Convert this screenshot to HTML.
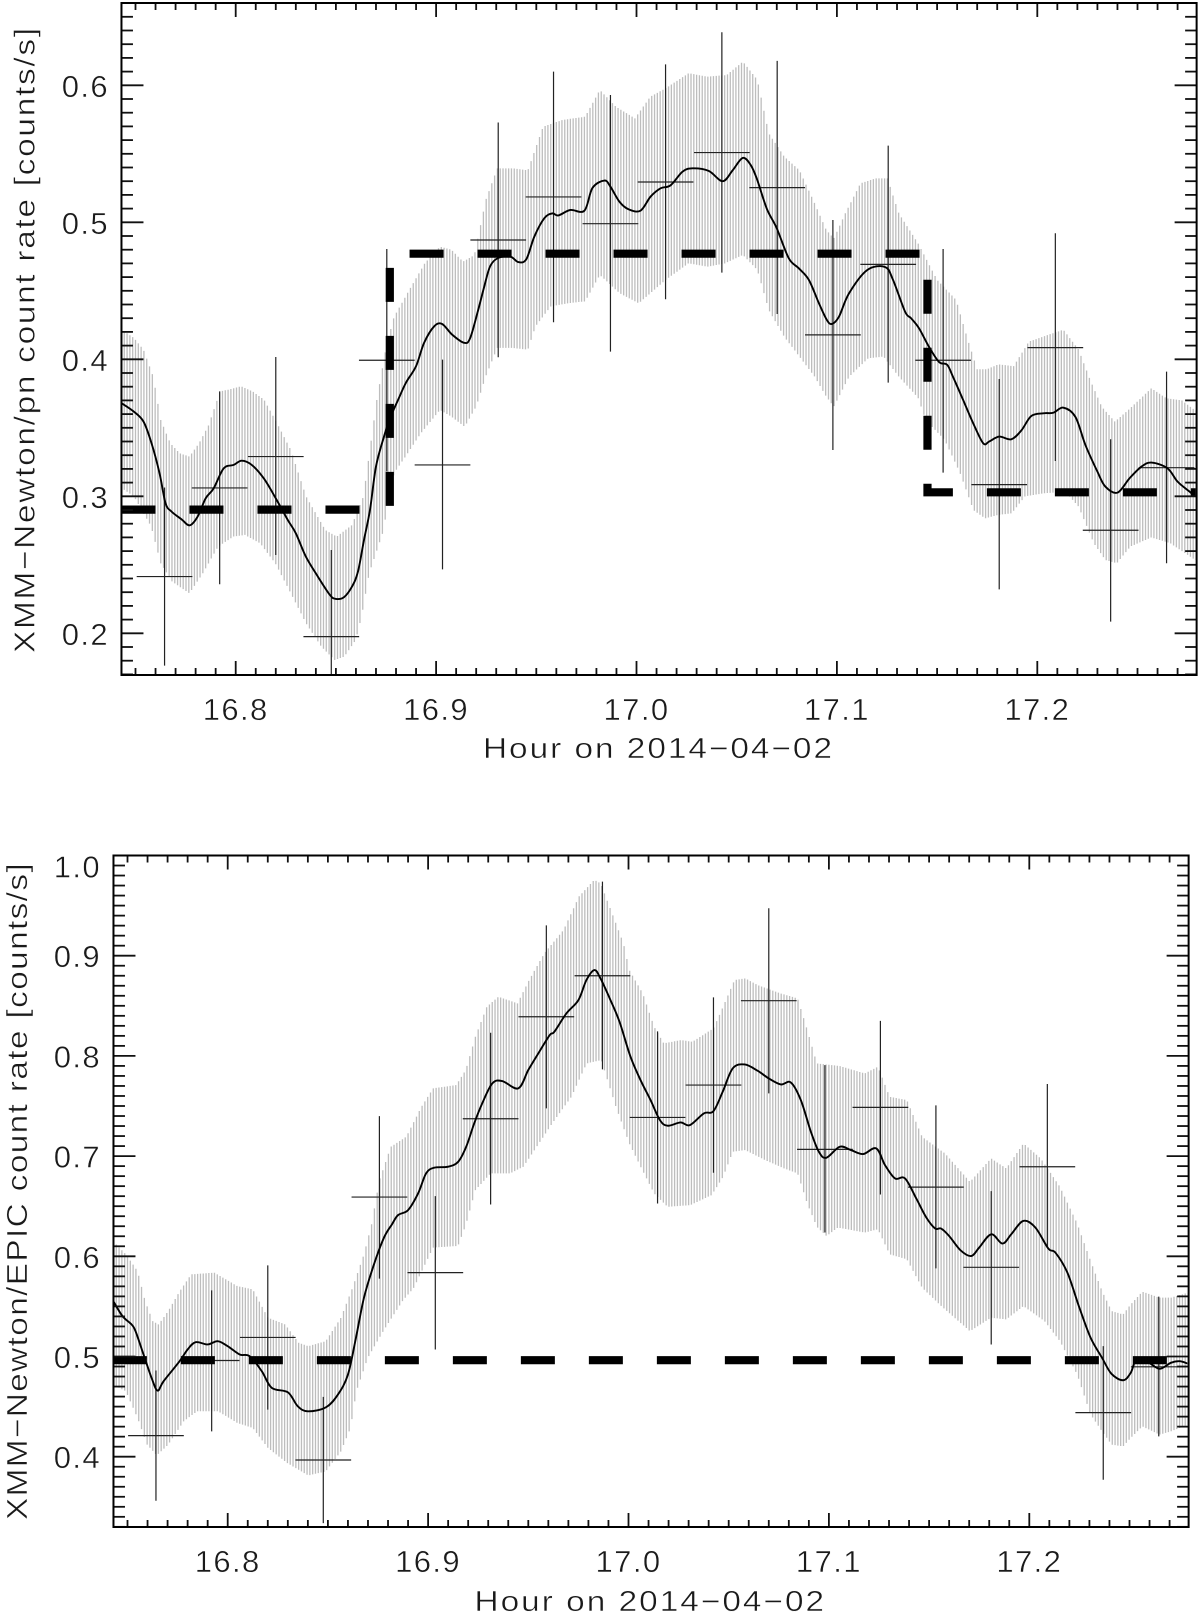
<!DOCTYPE html>
<html lang="en">
<head>
<meta charset="utf-8">
<title>XMM-Newton count rate light curves</title>
<style>
html,body{margin:0;padding:0;background:#fff;}
svg{display:block;}
text{font-family:"Liberation Sans",sans-serif;fill:#1a1a1a;stroke:#fff;stroke-width:.45px;}
</style>
</head>
<body>
<svg id="chart" xmlns="http://www.w3.org/2000/svg" width="1200" height="1618" viewBox="0 0 1200 1618">
  <defs>
    <clipPath id="clip-top"><rect x="121.7" y="3" width="1075.3" height="672"/></clipPath>
    <clipPath id="clip-bottom"><rect x="113.3" y="855.5" width="1074.1" height="671.5"/></clipPath>
  </defs>
  <g id="panel-top"></g>
  <g id="panel-bottom"></g>
  <text transform="translate(483,758) scale(1.15,1)" font-size="29" textLength="303.5" lengthAdjust="spacing">Hour on 2014−04−02</text>
  <text transform="translate(34.5,653) rotate(-90) scale(1.15,1)" font-size="29" textLength="543.5" lengthAdjust="spacing">XMM−Newton/pn count rate [counts/s]</text>
  <text transform="translate(474.5,1611) scale(1.15,1)" font-size="29" textLength="304" lengthAdjust="spacing">Hour on 2014−04−02</text>
  <text transform="translate(27,1520) rotate(-90) scale(1.15,1)" font-size="29" textLength="571" lengthAdjust="spacing">XMM−Newton/EPIC count rate [counts/s]</text>
</svg>
<script>
/* ===== tick labels ===== */
const xTickValues = [16.8, 16.9, 17.0, 17.1, 17.2];
const xTickLabels = ['16.8', '16.9', '17.0', '17.1', '17.2'];
const topYTickValues = [0.2, 0.3, 0.4, 0.5, 0.6];
const topYTickLabels = ['0.2', '0.3', '0.4', '0.5', '0.6'];
const bottomYTickValues = [0.4, 0.5, 0.6, 0.7, 0.8, 0.9, 1.0];
const bottomYTickLabels = ['0.4', '0.5', '0.6', '0.7', '0.8', '0.9', '1.0'];

/* ===== top panel (pn) ===== */
const topCurveHours = [16.743,16.749,16.754,16.758,16.762,16.765,16.768,16.773,16.777,16.781,16.785,16.789,16.794,16.799,16.803,16.808,16.814,16.82,16.826,16.83,16.835,16.841,16.847,16.85,16.854,16.858,16.861,16.864,16.867,16.87,16.874,16.877,16.881,16.885,16.89,16.894,16.899,16.903,16.908,16.914,16.917,16.921,16.924,16.927,16.931,16.937,16.941,16.945,16.949,16.954,16.958,16.961,16.967,16.974,16.978,16.984,16.987,16.9915,16.996,17.002,17.007,17.012,17.017,17.023,17.028,17.036,17.043,17.048,17.053,17.057,17.06,17.065,17.07,17.076,17.081,17.086,17.091,17.095,17.0975,17.101,17.106,17.115,17.124,17.128,17.134,17.137,17.141,17.146,17.151,17.155,17.158,17.163,17.168,17.173,17.176,17.181,17.187,17.192,17.197,17.203,17.208,17.213,17.219,17.224,17.23,17.234,17.24,17.246,17.252,17.257,17.265,17.27,17.276,17.279];
const topCurveRates = [.368,.362,.3545,.3387,.3168,.2949,.2888,.2832,.2788,.2852,.2985,.3058,.3204,.3229,.326,.3229,.3131,.2985,.2827,.273,.256,.2414,.228,.2251,.2263,.234,.245,.268,.29,.3217,.3436,.357,.3703,.383,.395,.412,.424,.4258,.418,.412,.4155,.436,.453,.468,.474,.475,.471,.473,.4895,.503,.5065,.505,.509,.5085,.525,.5305,.526,.515,.5095,.5085,.5187,.5248,.527,.537,.5394,.5375,.53,.538,.547,.5418,.532,.51,.4956,.4737,.4664,.458,.441,.4287,.4258,.431,.448,.465,.4674,.458,.4348,.43,.4226,.409,.398,.396,.387,.3703,.3533,.3387,.34,.3436,.3416,.348,.3586,.3606,.361,.3647,.358,.3375,.318,.307,.3027,.3131,.3217,.3246,.3204,.3107,.3034,.2998];

const topUpperHours = [16.7431,16.7492,16.754,16.7588,16.7626,16.7674,16.7721,16.7769,16.7817,16.7865,16.7922,16.7969,16.8027,16.8084,16.8141,16.8198,16.8275,16.8351,16.8447,16.8504,16.858,16.8637,16.8666,16.8704,16.8752,16.879,16.8866,16.8943,16.9019,16.9076,16.9134,16.9191,16.9248,16.9305,16.9382,16.9458,16.9534,16.963,16.9744,16.9817,16.9897,16.9992,17.0069,17.0145,17.026,17.0355,17.045,17.0531,17.0603,17.066,17.0737,17.0813,17.0889,17.0947,17.0985,17.1042,17.1118,17.1195,17.1252,17.1309,17.1405,17.15,17.1595,17.1653,17.17,17.1748,17.1805,17.1882,17.1958,17.2053,17.213,17.2206,17.2263,17.2321,17.2387,17.2454,17.2569,17.2645,17.2721,17.2788];
const topUpperRates = [.4217,.4156,.407,.3876,.3557,.3387,.3314,.329,.3387,.352,.3766,.378,.3803,.3766,.3706,.3557,.3338,.3,.2754,.2706,.279,.2998,.33,.3703,.41,.431,.4506,.47,.4822,.48,.4713,.476,.5163,.5394,.5394,.538,.5698,.5747,.5771,.5966,.5844,.5759,.5917,.5978,.6088,.6063,.6075,.6173,.604,.565,.548,.538,.5139,.4944,.4883,.5066,.5285,.5321,.5321,.5066,.4847,.458,.4433,.4143,.3927,.3927,.3963,.395,.4129,.4178,.4216,.4071,.3853,.3655,.3545,.363,.3788,.3715,.37,.3627];
const topLowerHours = [16.7431,16.7492,16.7578,16.7626,16.7683,16.7769,16.7836,16.7912,16.7989,16.8046,16.8122,16.8198,16.8275,16.8351,16.8427,16.8494,16.8542,16.8599,16.8628,16.8666,16.8733,16.879,16.8847,16.8924,16.9019,16.9076,16.9143,16.92,16.9248,16.9305,16.9382,16.9458,16.9496,16.9573,16.9668,16.9744,16.9817,16.9916,17.0011,17.0069,17.0145,17.026,17.0355,17.0441,17.0531,17.0603,17.066,17.0737,17.0813,17.0889,17.0947,17.0985,17.1061,17.1156,17.1233,17.1309,17.1405,17.1443,17.1538,17.1615,17.1681,17.1739,17.1805,17.1872,17.1939,17.2034,17.2139,17.2206,17.2282,17.234,17.2397,17.2464,17.2569,17.2664,17.2788];
const topLowerRates = [.306,.3,.278,.251,.2377,.2292,.2438,.2633,.2706,.2718,.2657,.251,.2292,.2073,.1903,.1805,.183,.1951,.2122,.2438,.273,.3168,.329,.346,.363,.3582,.3508,.3655,.3876,.4083,.4083,.407,.4241,.4387,.4411,.4423,.4616,.4482,.4409,.4482,.4579,.4701,.4676,.47,.4762,.4652,.436,.4165,.402,.3873,.3727,.3655,.3873,.4007,.402,.3873,.372,.3557,.3411,.3168,.29,.2839,.2864,.2876,.3,.3022,.3034,.2925,.2657,.2535,.2511,.2633,.27,.2657,.2535];

const topBinHours = [16.7645,16.792,16.82,16.8477,16.8754,16.9032,16.931,16.9586,16.987,17.0145,17.0426,17.0702,17.098,17.1256,17.153,17.181,17.209,17.2366,17.2645];
const topBinRates = [.2414,.3061,.329,.1976,.3993,.3229,.4871,.5185,.499,.5294,.5509,.5253,.4178,.4693,.3993,.3085,.4085,.2752,.3209];
const topBinHigh = [.3064,.3766,.4017,.2608,.4805,.3998,.5728,.61,.5929,.6153,.6387,.6178,.5017,.556,.4805,.3856,.492,.3416,.391];
const topBinLow = [.1764,.2358,.2572,.134,.3182,.2467,.4015,.427,.4056,.4438,.4633,.4331,.3338,.383,.3173,.2321,.3258,.2085,.2511];
const topStepHours = [16.743,16.8769,16.8769,17.1452,17.1452,17.279];
const topStepRates = [.2903,.2903,.4771,.4771,.3029,.3029];

/* ===== bottom panel (EPIC) ===== */
const bottomCurveHours = [16.7429,16.7475,16.752,16.754,16.758,16.762,16.765,16.768,16.776,16.78,16.784,16.79,16.795,16.8,16.806,16.811,16.817,16.822,16.83,16.835,16.84,16.849,16.855,16.86,16.864,16.868,16.873,16.878,16.882,16.885,16.89,16.895,16.899,16.903,16.91,16.915,16.919,16.923,16.927,16.932,16.937,16.945,16.95,16.955,16.9607,16.963,16.969,16.975,16.979,16.983,16.986,16.991,16.9955,17.001,17.006,17.011,17.0157,17.0195,17.026,17.0306,17.0376,17.0424,17.047,17.052,17.058,17.0644,17.07,17.076,17.081,17.086,17.091,17.095,17.0987,17.1054,17.111,17.117,17.1236,17.128,17.133,17.138,17.1436,17.1484,17.153,17.156,17.16,17.1657,17.171,17.175,17.181,17.1866,17.191,17.197,17.203,17.2095,17.213,17.219,17.225,17.2306,17.2363,17.241,17.2468,17.2506,17.2535,17.259,17.265,17.2706,17.275,17.279];
const bottomCurveRates = [.5553,.5403,.532,.5253,.502,.4787,.466,.4753,.4953,.507,.5143,.512,.5153,.5103,.502,.5003,.4853,.4687,.4643,.4503,.4453,.4493,.462,.482,.5187,.5587,.592,.6187,.632,.6411,.6461,.6627,.6827,.6884,.6894,.6943,.7093,.7326,.7526,.7725,.7749,.7676,.7859,.8025,.8208,.8241,.8424,.8557,.8757,.8857,.8774,.8557,.8341,.7992,.7759,.7559,.7359,.7303,.7336,.7309,.7426,.7449,.7642,.7875,.7915,.7852,.7775,.7715,.7735,.7559,.7243,.7043,.6983,.7093,.706,.702,.7077,.691,.6777,.6777,.6577,.6394,.6278,.6277,.6203,.606,.6003,.6087,.622,.6127,.622,.6353,.6287,.6077,.6037,.5837,.5487,.5187,.4987,.4827,.4763,.4837,.497,.4947,.4877,.4937,.4953,.493];

const bottomUpperHours = [16.7427,16.7492,16.755,16.7588,16.7626,16.7655,16.7703,16.7761,16.7818,16.7933,16.8048,16.8125,16.8201,16.8287,16.8354,16.8402,16.8489,16.8565,16.8623,16.868,16.8718,16.8757,16.8814,16.8891,16.8967,16.9025,16.914,16.9188,16.9236,16.9293,16.9351,16.9446,16.9504,16.958,16.9676,16.9753,16.9829,16.9861,16.9918,16.9975,17.0004,17.0071,17.0128,17.0176,17.0262,17.0319,17.0424,17.0472,17.0529,17.0583,17.0644,17.0758,17.0844,17.0892,17.094,17.1054,17.1179,17.1245,17.1303,17.1389,17.1465,17.158,17.1704,17.1809,17.1885,17.1971,17.2057,17.2153,17.2239,17.2306,17.2363,17.2411,17.2468,17.2506,17.2564,17.265,17.2707,17.2793];
const bottomUpperRates = [.6153,.602,.5853,.5553,.5353,.532,.5453,.5653,.582,.5837,.5703,.567,.5387,.532,.5137,.5103,.5153,.5387,.5687,.602,.632,.676,.7093,.7193,.7493,.7676,.7709,.7859,.8191,.8491,.8591,.8524,.8757,.9024,.9257,.9591,.9757,.9722,.9423,.9123,.8857,.8624,.8291,.8125,.8158,.8141,.8275,.8491,.8757,.8774,.8707,.8624,.8574,.8258,.7925,.7899,.7825,.7892,.7592,.7559,.7193,.7026,.6743,.6977,.6877,.7126,.6977,.6693,.6327,.5953,.5653,.5453,.542,.552,.5647,.5587,.5587,.5637];
const bottomLowerHours = [16.7427,16.7492,16.755,16.7598,16.7646,16.7703,16.778,16.7847,16.7952,16.8048,16.8125,16.8201,16.8297,16.8402,16.8489,16.8565,16.8613,16.8642,16.8699,16.8776,16.8872,16.8929,16.9025,16.9149,16.9188,16.9236,16.9312,16.9408,16.9475,16.9542,16.9619,16.9715,16.9791,16.9864,16.9937,17.0004,17.0061,17.0128,17.0195,17.0309,17.0415,17.0472,17.052,17.0583,17.0682,17.0777,17.0844,17.0892,17.094,17.0988,17.1045,17.1179,17.1245,17.1303,17.1389,17.1465,17.1561,17.1704,17.1809,17.1885,17.1971,17.2076,17.2153,17.2239,17.2306,17.2363,17.2411,17.2468,17.2506,17.2564,17.265,17.2707,17.2793];
const bottomLowerRates = [.472,.4653,.4387,.412,.4013,.412,.4353,.4453,.4453,.4337,.4287,.4087,.3937,.3813,.3853,.4053,.4287,.4653,.4987,.5253,.5553,.5687,.6087,.6103,.6311,.6661,.6827,.6827,.6893,.7093,.7326,.7592,.7925,.7958,.7493,.7126,.6893,.6627,.6494,.6511,.6611,.6793,.7043,.706,.696,.6877,.6827,.6527,.6294,.6203,.6287,.6237,.627,.602,.597,.5687,.5503,.5253,.5387,.537,.5503,.5353,.5153,.482,.442,.4253,.412,.4103,.4187,.4303,.422,.4253,.432];

const bottomBinHours = [16.7642,16.792,16.82,16.8477,16.8757,16.9036,16.9312,16.959,16.987,17.0145,17.0424,17.07,17.098,17.1257,17.1534,17.181,17.209,17.2369,17.2646];
const bottomBinRates = [.421,.496,.519,.3967,.6591,.5837,.7373,.8391,.88,.7386,.7709,.8551,.7067,.7486,.669,.589,.6894,.444,.4897];
const bottomBinHigh = [.486,.566,.591,.4597,.7399,.6601,.8231,.9303,.9739,.8245,.8584,.9473,.7908,.835,.7506,.665,.7719,.5103,.5597];
const bottomBinLow = [.356,.4253,.447,.3337,.5777,.507,.6517,.7476,.7865,.6527,.6834,.7626,.6237,.6617,.588,.512,.6103,.377,.4203];
const bottomStepHours = [16.7427,17.2793];
const bottomStepRates = [.4963,.4963];

/* ===== drawing ===== */
const NS = 'http://www.w3.org/2000/svg';
const BIN_HALF_WIDTH = 0.0139;
const STRIPE_STEP = 0.0014;

function make(tag, parent) {
  return parent.appendChild(document.createElementNS(NS, tag));
}
function interp(xs, ys, x) {
  if (x <= xs[0]) return ys[0];
  for (let i = 1; i < xs.length; i++) {
    if (x <= xs[i]) {
      return ys[i - 1] + (ys[i] - ys[i - 1]) * (x - xs[i - 1]) / (xs[i] - xs[i - 1]);
    }
  }
  return ys[ys.length - 1];
}
function setLine(el, x1, y1, x2, y2, color, width) {
  el.setAttribute('x1', x1.toFixed(2));
  el.setAttribute('y1', y1.toFixed(2));
  el.setAttribute('x2', x2.toFixed(2));
  el.setAttribute('y2', y2.toFixed(2));
  el.setAttribute('stroke', color);
  el.setAttribute('stroke-width', width);
}
function smoothPath(px, py) {
  let d = 'M' + px[0].toFixed(2) + ' ' + py[0].toFixed(2);
  for (let i = 0; i < px.length - 1; i++) {
    const a = Math.max(i - 1, 0), b = Math.min(i + 2, px.length - 1);
    const c1x = px[i] + (px[i + 1] - px[a]) / 6, c1y = py[i] + (py[i + 1] - py[a]) / 6;
    const c2x = px[i + 1] - (px[b] - px[i]) / 6, c2y = py[i + 1] - (py[b] - py[i]) / 6;
    d += 'C' + c1x.toFixed(2) + ' ' + c1y.toFixed(2) + ' ' + c2x.toFixed(2) + ' ' + c2y.toFixed(2) + ' ' + px[i + 1].toFixed(2) + ' ' + py[i + 1].toFixed(2);
  }
  return d;
}

function drawPanel(p) {
  const root = document.getElementById(p.id);
  const xOf = function (t) { return p.x168 + (t - 16.8) * p.xScale; };
  const yOf = function (v) { return p.yRefPx - (v - p.yRef) * p.yScale; };
  const hourMin = p.hourMin, hourMax = p.hourMax;

  const plot = make('g', root);
  plot.setAttribute('clip-path', 'url(#' + p.clip + ')');
  
  

  /* striped uncertainty band */
  const band = make('g', plot);
  
  
  for (let t = hourMin; t <= hourMax; t += STRIPE_STEP) {
    const s = make('line', band);
    setLine(s, xOf(t), yOf(interp(p.upperH, p.upperR, t)), xOf(t), yOf(interp(p.lowerH, p.lowerR, t)), '#bdbdbd', 1.3);
    
    
  }

  /* binned points with error bars */
  const bins = make('g', plot);
  
  
  p.binH.forEach(function (t, i) {
    const v = make('line', bins);
    setLine(v, xOf(t), yOf(p.binHigh[i]), xOf(t), yOf(p.binLow[i]), '#222', 1.2);
    
    
    const h = make('line', bins);
    setLine(h, xOf(t - BIN_HALF_WIDTH), yOf(p.binR[i]), xOf(t + BIN_HALF_WIDTH), yOf(p.binR[i]), '#222', 1.2);
    
    
  });

  /* smoothed curve */
  const curve = make('path', plot);
  curve.setAttribute('d', smoothPath(p.curveH.map(xOf), p.curveR.map(yOf)));
  curve.setAttribute('fill', 'none');
  curve.setAttribute('stroke', '#000');
  curve.setAttribute('stroke-width', '1.9');
  
  

  /* thick dashed block model */
  const step = make('path', plot);
  let d = '';
  p.stepH.forEach(function (t, i) {
    d += (i ? 'L' : 'M') + xOf(t).toFixed(2) + ' ' + yOf(p.stepR[i]).toFixed(2);
  });
  step.setAttribute('d', d);
  step.setAttribute('fill', 'none');
  step.setAttribute('stroke', '#000');
  step.setAttribute('stroke-width', '8.2');
  step.setAttribute('stroke-dasharray', '34 34');
  
  

  /* x ticks (bottom and top) */
  const L = xOf(hourMin), R = xOf(hourMax);
  const axes = make('g', root);
  
  
  for (let k = Math.ceil(hourMin * 100); k <= Math.floor(hourMax * 100); k++) {
    const major = k % 10 === 0;
    const len = major ? 14 : 7;
    const tb = make('line', axes);
    setLine(tb, xOf(k / 100), p.bottom, xOf(k / 100), p.bottom - len, '#111', 1.8);
    
    
    const tt = make('line', axes);
    setLine(tt, xOf(k / 100), p.top, xOf(k / 100), p.top + len, '#111', 1.8);
    
    
  }
  /* y ticks (left and right) */
  const yLow = p.yRef + (p.yRefPx - p.bottom) / p.yScale;
  const yHigh = p.yRef + (p.yRefPx - p.top) / p.yScale;
  for (let k = Math.ceil(yLow * 100 - 1e-6); k <= Math.floor(yHigh * 100 + 1e-6); k++) {
    const major = k % 10 === 0;
    const len = major ? 22 : 11.5;
    const tl = make('line', axes);
    setLine(tl, L, yOf(k / 100), L + len, yOf(k / 100), '#111', 1.8);
    
    
    const tr = make('line', axes);
    setLine(tr, R, yOf(k / 100), R - len, yOf(k / 100), '#111', 1.8);
    
    
  }
  /* frame */
  const frame = make('rect', axes);
  frame.setAttribute('x', L.toFixed(2));
  frame.setAttribute('y', p.top);
  frame.setAttribute('width', (R - L).toFixed(2));
  frame.setAttribute('height', p.bottom - p.top);
  frame.setAttribute('fill', 'none');
  frame.setAttribute('stroke', '#000');
  frame.setAttribute('stroke-width', '2');
  
  

  /* tick labels */
  xTickValues.forEach(function (t, i) {
    const lab = make('text', root);
    lab.setAttribute('x', xOf(t).toFixed(1));
    lab.setAttribute('y', p.xLabelY);
    lab.setAttribute('text-anchor', 'middle');
    lab.setAttribute('font-size', '31');
    lab.setAttribute('letter-spacing', '1.4');
    lab.textContent = xTickLabels[i];
    
    
  });
  p.yTicks.forEach(function (v, i) {
    const lab = make('text', root);
    lab.setAttribute('x', p.yLabelX);
    lab.setAttribute('y', Math.max(yOf(v) + 11.5, p.top + 22).toFixed(1));
    lab.setAttribute('text-anchor', 'end');
    lab.setAttribute('font-size', '31');
    lab.setAttribute('letter-spacing', '1.4');
    lab.textContent = p.yLabels[i];
    
    
  });
}

drawPanel({
  id: 'panel-top', clip: 'clip-top', x168: 235.7, xScale: 2004, yRef: 0.2, yRefPx: 633.3, yScale: 1370,
  hourMin: 16.743, hourMax: 17.2795, top: 3, bottom: 675, xLabelY: 720, yLabelX: 109,
  yTicks: topYTickValues, yLabels: topYTickLabels,
  curveH: topCurveHours, curveR: topCurveRates,
  upperH: topUpperHours, upperR: topUpperRates, lowerH: topLowerHours, lowerR: topLowerRates,
  binH: topBinHours, binR: topBinRates, binHigh: topBinHigh, binLow: topBinLow,
  stepH: topStepHours, stepR: topStepRates
});
drawPanel({
  id: 'panel-bottom', clip: 'clip-bottom', x168: 227.7, xScale: 2004, yRef: 0.4, yRefPx: 1456.7, yScale: 1002,
  hourMin: 16.743, hourMax: 17.2795, top: 855.5, bottom: 1527, xLabelY: 1572, yLabelX: 101,
  yTicks: bottomYTickValues, yLabels: bottomYTickLabels,
  curveH: bottomCurveHours, curveR: bottomCurveRates,
  upperH: bottomUpperHours, upperR: bottomUpperRates, lowerH: bottomLowerHours, lowerR: bottomLowerRates,
  binH: bottomBinHours, binR: bottomBinRates, binHigh: bottomBinHigh, binLow: bottomBinLow,
  stepH: bottomStepHours, stepR: bottomStepRates
});
</script>
</body>
</html>
